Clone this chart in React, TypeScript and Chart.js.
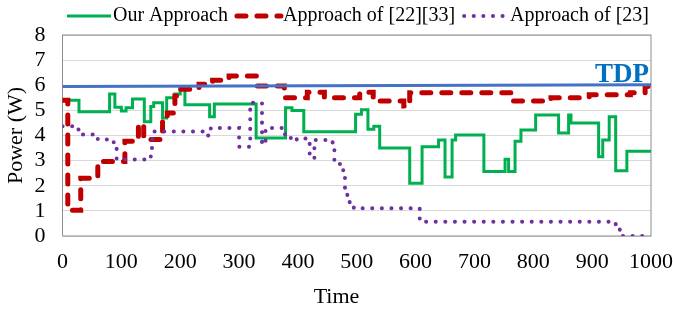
import React, { useEffect, useRef } from 'react';
import { Chart, registerables } from 'chart.js';

Chart.register(...registerables);

const FONT = '"Liberation Serif", "Times New Roman", serif';

// ---- data ----
const seriesLabels = ['Our Approach', 'Approach of [22][33]', 'Approach of [23]', 'TDP'];
const xTitle = 'Time';
const yTitle = 'Power (W)';

const ourTime = [0, 28, 80, 89, 100, 108, 119, 139, 150, 155, 170, 177, 191, 200, 208, 250, 258, 329, 379, 390, 410, 498, 508, 519, 529, 539, 590, 611, 639, 650, 662, 668, 716, 752, 758, 769, 779, 804, 843, 860, 864, 911, 918, 929, 940, 959, 1000];
const ourPower = [5.4, 4.95, 5.65, 5.12, 4.98, 5.1, 5.45, 4.55, 5.15, 5.3, 4.7, 5.5, 5.65, 5.95, 5.22, 4.75, 5.25, 3.9, 5.1, 5.0, 4.15, 4.85, 5.02, 4.25, 4.37, 3.5, 2.1, 3.55, 3.82, 2.35, 3.82, 4.02, 2.57, 3.05, 2.57, 3.77, 4.22, 4.82, 4.1, 4.82, 4.5, 3.15, 3.82, 4.75, 2.6, 3.37, 3.37];

const refATime = [0, 9, 31, 60, 106, 129, 138, 170, 178, 191, 197, 232, 255, 283, 330, 377, 416, 445, 505, 528, 580, 590, 765, 830, 895, 965, 990, 1000];
const refAPower = [5.4, 1.02, 2.3, 2.97, 3.77, 4.45, 3.84, 4.75, 4.9, 5.57, 5.84, 6.04, 6.2, 6.37, 5.97, 5.5, 5.72, 5.5, 5.72, 5.37, 5.17, 5.7, 5.37, 5.5, 5.62, 5.7, 5.95, 5.95];

const refBTime = [0, 25, 33, 60, 87, 92, 150, 153, 245, 252, 300, 319, 339, 345, 378, 388, 398, 420, 428, 459, 462, 470, 477, 480, 484, 488, 495, 607, 940, 947, 1000];
const refBPower = [4.37, 4.24, 4.04, 3.84, 3.5, 3.04, 3.5, 4.16, 4.0, 4.3, 3.55, 5.3, 3.65, 4.3, 3.9, 3.8, 3.88, 3.1, 3.82, 3.45, 3.0, 2.87, 2.6, 1.9, 1.55, 1.25, 1.1, 0.57, 0.35, 0, 0];

const tdpTime = [0, 1000];
const tdpPower = [5.95, 6.02];

const xTicks = { min: 0, max: 1000, step: 100 };
const yTicks = { min: 0, max: 8, step: 1 };

const toPoints = (xs: number[], ys: number[]) => xs.map((x, i) => ({ x, y: ys[i] }));

const customLegend = {
  id: 'customLegend',
  afterDraw(chart: any) {
    const ctx = chart.ctx;
    ctx.save();
    ctx.font = `20px ${FONT}`;
    ctx.textBaseline = 'middle';
    let x = 66;
    const y = 16;
    chart.data.datasets.forEach((ds: any) => {
      if (!ds.inLegend) return;
      ctx.save();
      ctx.strokeStyle = ds.borderColor;
      ctx.lineWidth = ds.borderWidth;
      ctx.lineCap = ds.borderCapStyle || 'butt';
      ctx.setLineDash(ds.borderDash || []);
      ctx.beginPath();
      ctx.moveTo(x + 1, y);
      ctx.lineTo(x + 45, y);
      ctx.stroke();
      ctx.restore();
      x += 47;
      ctx.fillStyle = '#000';
      ctx.textAlign = 'left';
      ctx.fillText(ds.label, x, y);
      x += ctx.measureText(ds.label).width + 8;
    });
    // x-axis title, centred on the whole figure as in the reference
    ctx.font = `22px ${FONT}`;
    ctx.textAlign = 'center';
    ctx.textBaseline = 'middle';
    ctx.fillStyle = '#000';
    ctx.fillText(xTitle, chart.width / 2, chart.height - 15);
    ctx.restore();
  },
};

const frameAndTdp = {
  id: 'frameAndTdp',
  beforeDatasetsDraw(chart: any) {
    const { ctx, chartArea } = chart;
    ctx.save();
    ctx.strokeStyle = '#8c8c8c';
    ctx.lineWidth = 1;
    ctx.strokeRect(chartArea.left, chartArea.top, chartArea.right - chartArea.left, chartArea.bottom - chartArea.top);
    ctx.restore();
  },
  afterDatasetsDraw(chart: any) {
    const { ctx, chartArea, scales } = chart;
    ctx.save();
    ctx.font = `bold 27px ${FONT}`;
    ctx.fillStyle = '#0070C0';
    ctx.textAlign = 'right';
    ctx.textBaseline = 'alphabetic';
    const yPix = scales.y.getPixelForValue(tdpPower[tdpPower.length - 1]);
    ctx.fillText('TDP', chartArea.right - 2, yPix - 3);
    ctx.restore();
  },
};

export default function App() {
  const ref = useRef<HTMLCanvasElement>(null);

  useEffect(() => {
    document.body.style.margin = '0';
    const canvas = ref.current;
    if (!canvas) return;
    const chart = new Chart(canvas, {
      type: 'line',
      data: {
        datasets: [
          {
            label: seriesLabels[0],
            data: toPoints(ourTime, ourPower),
            borderColor: '#00B050',
            borderWidth: 3,
            stepped: true,
            pointRadius: 0,
            fill: false,
            order: 4,
            inLegend: true,
          } as any,
          {
            label: seriesLabels[1],
            data: toPoints(refATime, refAPower),
            borderColor: '#C00000',
            borderWidth: 5,
            borderDash: [9, 11],
            borderCapStyle: 'round',
            stepped: true,
            pointRadius: 0,
            fill: false,
            order: 3,
            inLegend: true,
          } as any,
          {
            label: seriesLabels[2],
            data: toPoints(refBTime, refBPower),
            borderColor: '#7030A0',
            borderWidth: 4,
            borderDash: [0.1, 9.5],
            borderCapStyle: 'round',
            stepped: true,
            pointRadius: 0,
            fill: false,
            order: 2,
            inLegend: true,
          } as any,
          {
            label: seriesLabels[3],
            data: toPoints(tdpTime, tdpPower),
            borderColor: '#4472C4',
            borderWidth: 3,
            pointRadius: 0,
            fill: false,
            order: 1,
            inLegend: false,
          } as any,
        ],
      },
      options: {
        responsive: false,
        animation: false,
        events: [],
        layout: { padding: { top: 35, left: 0, right: 0, bottom: 0 } },
        plugins: {
          legend: { display: false },
          tooltip: { enabled: false },
        },
        scales: {
          x: {
            type: 'linear',
            min: xTicks.min,
            max: xTicks.max,
            afterFit: (s: any) => { s.height = 76; s.paddingRight = 22; s.paddingLeft = 0; },
            grid: { display: false, drawTicks: false },
            border: { display: false },
            ticks: {
              stepSize: xTicks.step,
              autoSkip: false,
              padding: 13,
              color: '#000',
              font: { family: FONT, size: 22 },
              maxRotation: 0,
              callback: (v: any) => String(v),
            },
            title: { display: false },
          },
          y: {
            min: yTicks.min,
            max: yTicks.max,
            afterFit: (s: any) => { s.width = 62.5; },
            grid: { color: '#d9d9d9', lineWidth: 1, drawTicks: false },
            border: { display: false },
            ticks: {
              stepSize: yTicks.step,
              autoSkip: false,
              padding: 17,
              color: '#000',
              font: { family: FONT, size: 22 },
              callback: (v: any) => String(v),
            },
            title: {
              display: true,
              text: yTitle,
              color: '#000',
              font: { family: FONT, size: 22 },
              padding: { top: 3, bottom: 0 },
            },
          },
        },
      } as any,
      plugins: [frameAndTdp, customLegend],
    });
    return () => chart.destroy();
  }, []);

  return (
    <div style={{ width: 673, height: 312 }}>
      <canvas ref={ref} width={673} height={312} style={{ display: 'block' }} />
    </div>
  );
}
